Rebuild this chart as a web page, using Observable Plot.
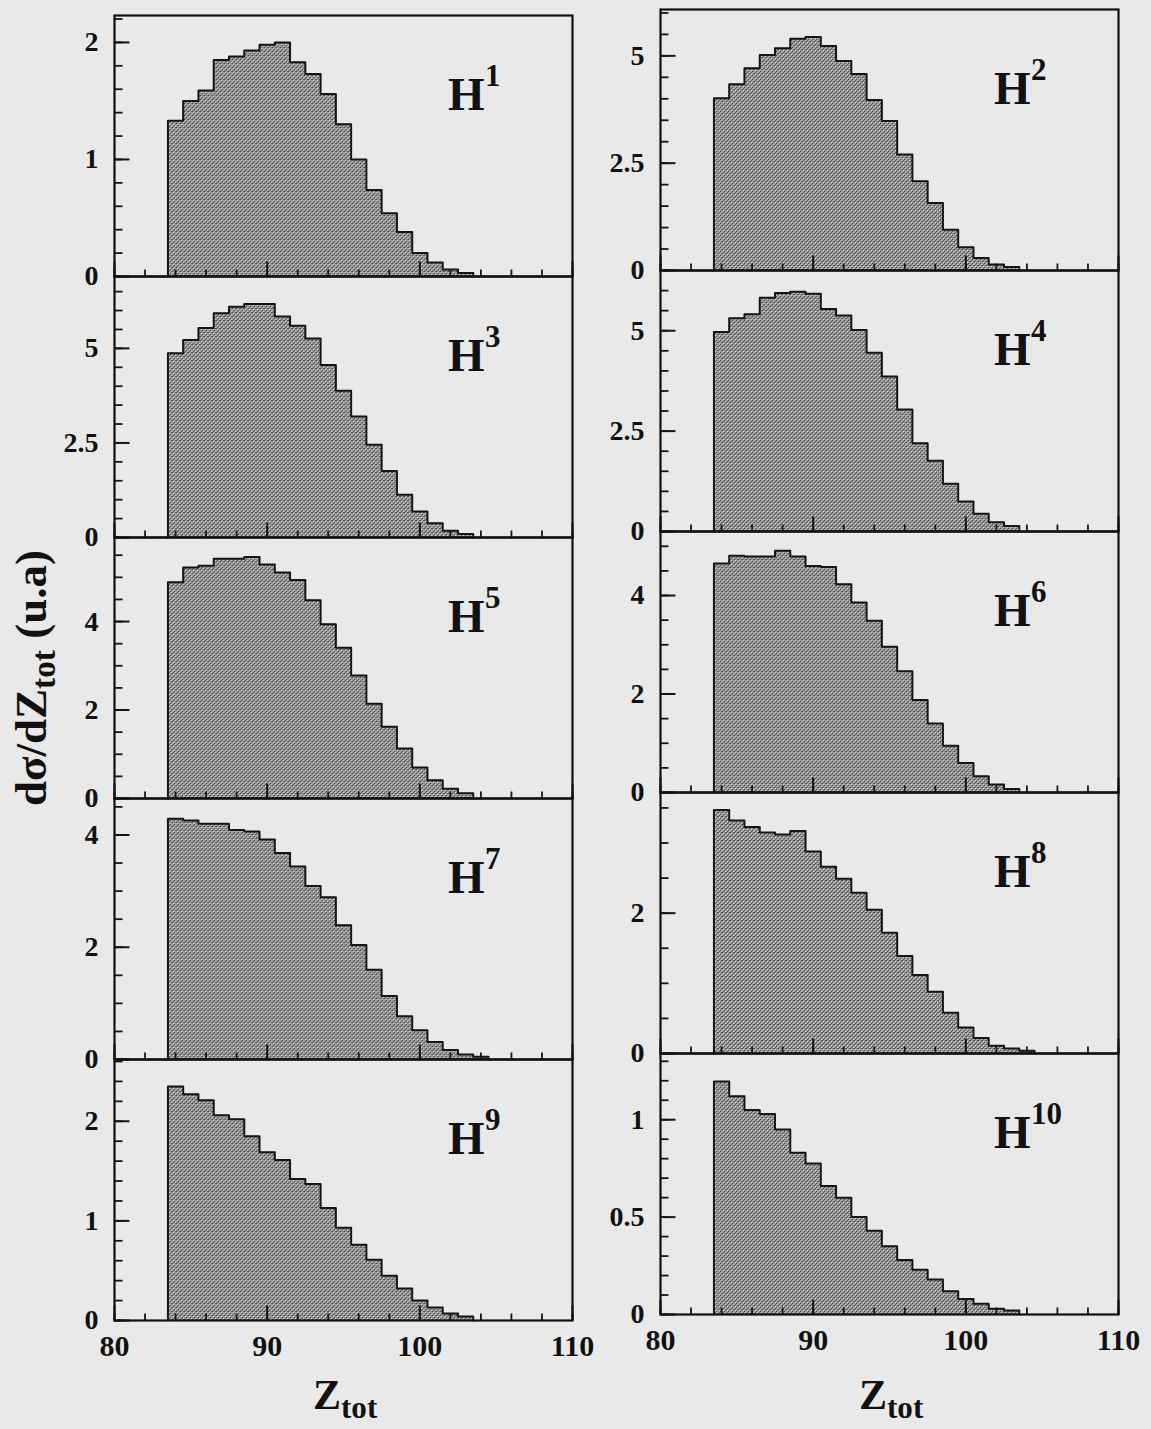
<!DOCTYPE html>
<html><head><meta charset="utf-8">
<script src="https://cdn.jsdelivr.net/npm/d3@7"></script>
<script src="https://cdn.jsdelivr.net/npm/@observablehq/plot@0.6"></script>
<style>
body{margin:0;background:#e9e9e9;}
#root{position:relative;width:1151px;height:1429px;overflow:hidden;font-family:"Liberation Serif","DejaVu Serif",serif;}
.panel{position:absolute;}
.lbl{position:absolute;font-weight:bold;color:#111;white-space:nowrap;line-height:1;}
.lbl sub{font-size:0.74em;vertical-align:baseline;position:relative;top:0.28em;}
</style></head><body>
<svg width="0" height="0" style="position:absolute">
<defs><pattern id="stip" width="4" height="4" patternUnits="userSpaceOnUse">
<rect width="4" height="4" fill="#9c9c9c"/>
<rect x="0" y="0" width="1" height="1" fill="#454545"/>
<rect x="2" y="2" width="1" height="1" fill="#454545"/>
<rect x="3" y="0" width="1" height="1" fill="#626262"/>
<rect x="1" y="3" width="1" height="1" fill="#626262"/>
<rect x="1" y="1" width="1" height="1" fill="#cccccc"/>
<rect x="3" y="3" width="1" height="1" fill="#cccccc"/>
</pattern></defs></svg>
<div id="root"></div>
<script>
// ---- data ----
const zBins = [84,85,86,87,88,89,90,91,92,93,94,95,96,97,98,99,100,101,102,103,104];
const h1  = [1.33,1.50,1.59,1.85,1.88,1.93,1.98,2.00,1.83,1.73,1.56,1.30,1.00,0.74,0.54,0.38,0.20,0.12,0.06,0.03];
const h2  = [4.01,4.34,4.71,5.02,5.18,5.40,5.44,5.23,4.88,4.58,3.97,3.48,2.70,2.08,1.57,0.95,0.54,0.29,0.14,0.08];
const h3  = [4.87,5.22,5.54,5.93,6.10,6.17,6.17,5.84,5.60,5.26,4.56,3.88,3.20,2.45,1.76,1.13,0.69,0.38,0.18,0.09];
const h4  = [4.97,5.31,5.41,5.82,5.94,5.97,5.92,5.54,5.38,5.02,4.45,3.86,3.04,2.20,1.76,1.19,0.75,0.44,0.23,0.14];
const h5  = [4.89,5.22,5.26,5.42,5.42,5.46,5.29,5.11,4.94,4.48,3.94,3.41,2.78,2.14,1.62,1.13,0.70,0.41,0.22,0.12];
const h6  = [4.65,4.81,4.79,4.79,4.91,4.79,4.60,4.58,4.23,3.86,3.49,2.96,2.46,1.88,1.40,0.95,0.60,0.33,0.16,0.07];
const h7  = [4.29,4.26,4.20,4.20,4.09,4.06,3.92,3.68,3.44,3.09,2.89,2.39,2.04,1.60,1.13,0.77,0.52,0.31,0.17,0.09,0.05];
const h8  = [3.47,3.32,3.23,3.15,3.12,3.17,2.88,2.66,2.49,2.29,2.05,1.72,1.39,1.12,0.88,0.58,0.37,0.22,0.11,0.07,0.04];
const h9  = [2.35,2.27,2.21,2.06,2.02,1.85,1.69,1.61,1.42,1.37,1.13,0.93,0.76,0.61,0.45,0.32,0.20,0.13,0.07,0.04];
const h10 = [1.196,1.12,1.05,1.03,0.95,0.83,0.775,0.66,0.60,0.50,0.43,0.35,0.28,0.23,0.18,0.12,0.08,0.055,0.03,0.02];
const series = [h1,h2,h3,h4,h5,h6,h7,h8,h9,h10];
const panelNames = ["1","2","3","4","5","6","7","8","9","10"];
const yMaxes = [2.23, 6.08, 6.9, 6.5, 5.9, 5.3, 4.65, 3.72, 2.62, 1.34];
const yTickLabels = [[0,1,2],[0,2.5,5],[0,2.5,5],[0,2.5,5],[0,2,4],[0,2,4],[0,2,4],[0,2],[0,1,2],[0,0.5,1]];
const yMinorSteps = [0.2,0.5,0.5,0.5,0.5,0.5,0.5,0.5,0.2,0.1];
const xDomain = [80,110];
const xTickLabels = [80,90,100,110];
const xMinorStep = 2;

// ---- layout ----
const FONT = '"Liberation Serif","DejaVu Serif",serif';
const colX = [114, 660];
const colW = 458;
const rowH = 261;
const colTop = [15, 9];
const mL = 70, mR = 12, mT = 12, mB = 56;
const root = document.getElementById("root");
const INK = "#151515";
const fmt = d => String(d);

series.forEach((vals, i) => {
  const col = i % 2, row = Math.floor(i / 2);
  const isBottom = row === 4;
  const fx = colX[col], fy = colTop[col] + row * rowH;
  const yMax = yMaxes[i];
  // inward tick lengths (pixels) converted to scale units
  const pxX = (xDomain[1] - xDomain[0]) / colW;
  const pxY = yMax / rowH;
  const bins = vals.map((v, k) => ({lo: zBins[k] - 0.5, hi: zBins[k] + 0.5, v}));
  const outline = [{x: bins[0].lo, y: 0}, ...bins.map(b => ({x: b.lo, y: b.v})), {x: bins[bins.length - 1].hi, y: 0}];
  const yMinor = d3.range(0, yMax + 1e-9, yMinorSteps[i]).map(v => ({v}));
  const yMajor = yTickLabels[i].map(v => ({v}));
  const xMinor = d3.range(xDomain[0], xDomain[1] + 1e-9, xMinorStep).map(v => ({v}));
  const xMajor = xTickLabels.map(v => ({v}));
  const marks = [
    Plot.areaY(outline, {x: "x", y: "y", curve: "step-after", fill: "url(#stip)"}),
    Plot.lineY(outline, {x: "x", y: "y", curve: "step-after", stroke: INK, strokeWidth: 2}),
    Plot.link(yMinor, {x1: () => xDomain[0], x2: () => xDomain[0] + 8 * pxX, y1: "v", y2: "v", stroke: INK, strokeWidth: 1.8}),
    Plot.link(yMajor, {x1: () => xDomain[0], x2: () => xDomain[0] + 15 * pxX, y1: "v", y2: "v", stroke: INK, strokeWidth: 2}),
    Plot.link(xMinor, {x1: "v", x2: "v", y1: () => 0, y2: () => 7 * pxY, stroke: INK, strokeWidth: 1.8}),
    Plot.link(xMajor, {x1: "v", x2: "v", y1: () => 0, y2: () => 15 * pxY, stroke: INK, strokeWidth: 2}),
    Plot.axisY({ticks: yTickLabels[i], tickSize: 0, tickPadding: 16, tickFormat: fmt, fontSize: 28, fontWeight: "bold", fontFamily: FONT, fill: "#111", label: null}),
    Plot.frame({stroke: "#111", strokeWidth: 2.2}),
    Plot.text(["H"], {frameAnchor: "top-left", dx: 0.728 * colW, dy: 0.355 * rowH - 13, textAnchor: "start", lineAnchor: "middle", fontSize: 47, fontWeight: "bold", fontFamily: FONT, fill: "#111"}),
    Plot.text([panelNames[i]], {frameAnchor: "top-left", dx: 0.728 * colW + 37, dy: 0.355 * rowH - 32, textAnchor: "start", lineAnchor: "middle", fontSize: 31, fontWeight: "bold", fontFamily: FONT, fill: "#111"})
  ];
  if (isBottom) {
    marks.push(Plot.axisX({ticks: xTickLabels, tickSize: 0, tickPadding: 14, tickFormat: fmt, fontSize: 30, fontWeight: "bold", fontFamily: FONT, fill: "#111", label: null}));
  }
  const svg = Plot.plot({
    width: colW + mL + mR, height: rowH + mT + mB,
    marginLeft: mL, marginRight: mR, marginTop: mT, marginBottom: mB,
    x: {domain: xDomain, axis: null},
    y: {domain: [0, yMax], axis: null},
    style: {background: "transparent", overflow: "visible"},
    marks
  });
  svg.classList.add("panel");
  svg.style.left = (fx - mL) + "px";
  svg.style.top = (fy - mT) + "px";
  svg.style.position = "absolute";
  root.appendChild(svg);
});

// axis titles
const yTitle = document.createElement("div");
yTitle.className = "lbl";
yTitle.innerHTML = "dσ/dZ<sub>tot</sub> (u.a)";
yTitle.style.cssText += "left:31px;top:678px;font-size:45px;transform:translate(-50%,-50%) rotate(-90deg);";
root.appendChild(yTitle);

[0, 1].forEach(col => {
  const t = document.createElement("div");
  t.className = "lbl";
  t.innerHTML = "Z<sub>tot</sub>";
  t.style.cssText += `left:${colX[col] + colW / 2 - 30}px;top:1374px;font-size:42px;`;
  root.appendChild(t);
});
</script>
</body></html>
